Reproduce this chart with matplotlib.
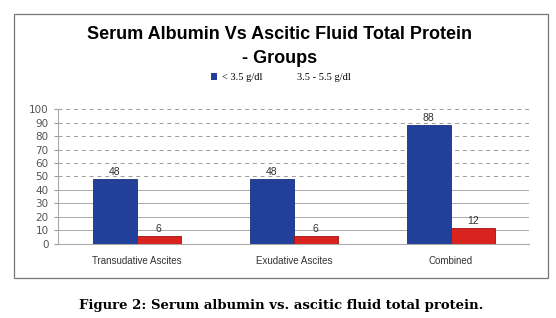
import matplotlib.pyplot as plt
import numpy as np
from matplotlib.patches import Rectangle, Patch

# data
groups = ["Transudative Ascites", "Exudative Ascites", "Combined"]
low_albumin = [48, 48, 88]      # < 3.5 g/dl
high_albumin = [6, 6, 12]       # 3.5 - 5.5 g/dl
series_names = ["< 3.5 g/dl", "3.5 - 5.5 g/dl"]
yticks = [0, 10, 20, 30, 40, 50, 60, 70, 80, 90, 100]

blue = "#22409a"
red = "#d8231f"

fig = plt.figure(figsize=(5.56, 3.18), dpi=100)
ax = fig.add_axes([0.105, 0.233, 0.847, 0.424])

x = np.arange(len(groups))
w = 0.28
b1 = ax.bar(x - w / 2, low_albumin, w, color=blue, edgecolor="#16307a", linewidth=0.6, zorder=3)
b2 = ax.bar(x + w / 2, high_albumin, w, color=red, edgecolor="#a01010", linewidth=0.6, zorder=3)

for bars in (b1, b2):
    for r in bars:
        ax.text(r.get_x() + r.get_width() / 2, r.get_height() + 1.5, f"{r.get_height():g}",
                ha="center", va="bottom", fontsize=7.5, color="#333333",
                family="Liberation Sans", zorder=4)

ax.set_xlim(-0.5, len(groups) - 0.5)
ax.set_ylim(0, 100)
ax.set_yticks(yticks)
ax.set_yticklabels([str(t) for t in yticks], fontsize=7.5, color="#555555", family="DejaVu Sans")
ax.set_xticks(x)
ax.set_xticklabels(groups, fontsize=7, color="#333333", family="Liberation Sans")
ax.tick_params(axis="x", length=0, pad=9)
ax.tick_params(axis="y", length=3, color="#999999", pad=4)

# grid: solid below 50, dashed above
for t in yticks[1:]:
    if t <= 40:
        ax.axhline(t, color="#aaaaaa", lw=0.7, zorder=1)
    else:
        ax.axhline(t, color="#999999", lw=0.7, ls=(0, (4, 4)), zorder=1)

for s in ["top", "right"]:
    ax.spines[s].set_visible(False)
ax.spines["left"].set_color("#aaaaaa")
ax.spines["bottom"].set_color("#aaaaaa")

# title and legend
fig.text(0.503, 0.89, "Serum Albumin Vs Ascitic Fluid Total Protein", ha="center", va="center",
         fontsize=13, fontweight="bold", family="Liberation Sans")
fig.text(0.503, 0.815, "- Groups", ha="center", va="center",
         fontsize=13, fontweight="bold", family="Liberation Sans")
handles = [Patch(facecolor=blue), Patch(facecolor="none", edgecolor="none")]
fig.legend(handles, series_names, loc="center", bbox_to_anchor=(0.505, 0.755), ncol=2,
           frameon=False, prop={"family": "Liberation Serif", "size": 7.5},
           handlelength=0.6, handleheight=0.6, columnspacing=2.2, handletextpad=0.5)

# outer frame
fig.patches.append(Rectangle((14 / 556, 1 - 278 / 318), (548 - 14) / 556, (278 - 14) / 318,
                             transform=fig.transFigure, fill=False, edgecolor="#777777", lw=0.9))

fig.text(0.506, 0.038, "Figure 2: Serum albumin vs. ascitic fluid total protein.", ha="center", va="center",
         fontsize=9.5, fontweight="bold", family="DejaVu Serif")

fig.savefig("out.png", dpi=100)
